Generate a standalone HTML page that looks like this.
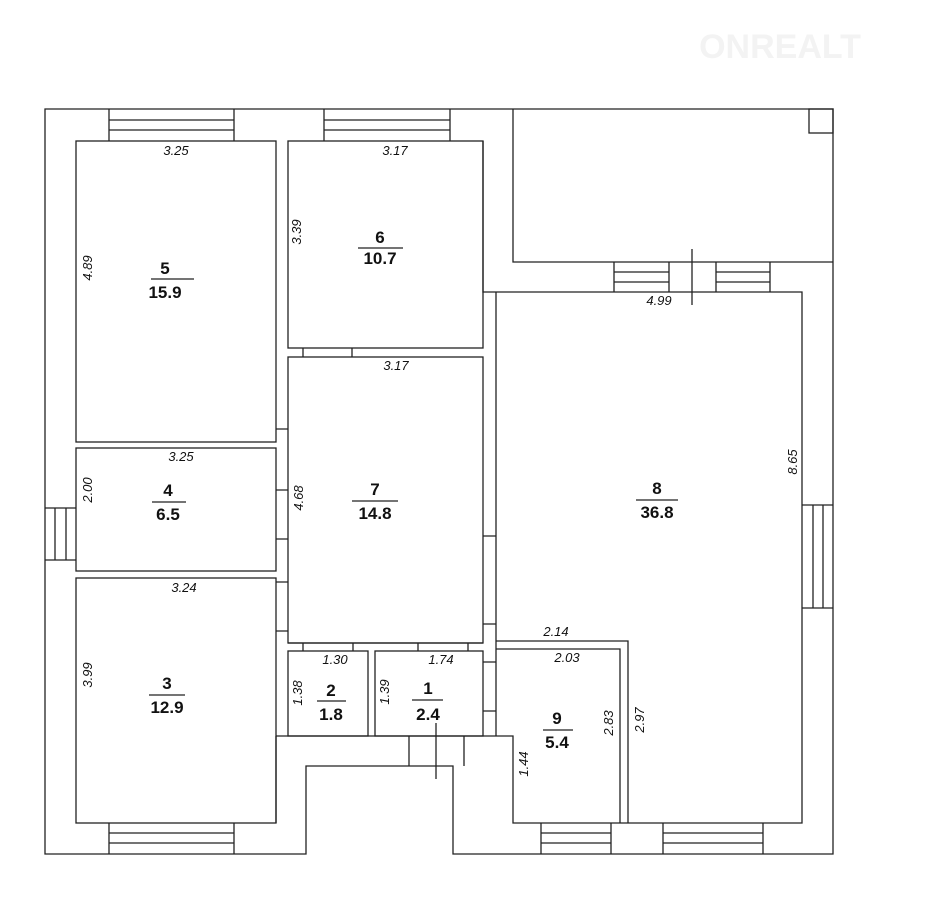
<!DOCTYPE html>
<html><head><meta charset="utf-8"><style>
html,body{margin:0;padding:0;background:#fff}
svg{display:block}
.l{stroke:#222;stroke-width:1.3;fill:none}
.n{font-family:"Liberation Sans",Arial,sans-serif;font-weight:bold;font-size:17px;fill:#111;text-anchor:middle}
.d{font-family:"Liberation Sans",Arial,sans-serif;font-style:italic;font-size:13px;fill:#111;text-anchor:middle}
</style></head><body>
<svg width="942" height="910" viewBox="0 0 942 910" xmlns="http://www.w3.org/2000/svg">
<text x="780" y="58" font-family="Liberation Sans,sans-serif" font-weight="bold" font-size="34" fill="#f3f3f3" text-anchor="middle">ONREALT</text>
<g class="l">
<path d="M45 109 H833 V854 H453 V766 H306 V854 H45 Z"/>
<path d="M513 109 V262 H833"/>
<rect x="809" y="109" width="24" height="24"/>
<path d="M109 109 V141 M234 109 V141 M109 120 H234 M109 130 H234"/>
<path d="M324 109 V141 M450 109 V141 M324 120 H450 M324 130 H450"/>
<path d="M614 262 V292 M669 262 V292 M614 272 H669 M614 282 H669"/>
<path d="M716 262 V292 M770 262 V292 M716 272 H770 M716 282 H770"/>
<path d="M692 249 V305"/>
<path d="M802 505 H833 M802 608 H833 M813 505 V608 M823 505 V608"/>
<path d="M45 508 H76 M45 560 H76 M55 508 V560 M66 508 V560"/>
<path d="M109 823 V854 M234 823 V854 M109 833 H234 M109 843 H234"/>
<path d="M541 823 V854 M611 823 V854 M541 833 H611 M541 843 H611"/>
<path d="M663 823 V854 M763 823 V854 M663 833 H763 M663 843 H763"/>
<rect x="76" y="141" width="200" height="301"/>
<rect x="76" y="448" width="200" height="123"/>
<rect x="76" y="578" width="200" height="245"/>
<rect x="288" y="141" width="195" height="207"/>
<rect x="288" y="357" width="195" height="286"/>
<rect x="288" y="651" width="80" height="85"/>
<rect x="375" y="651" width="108" height="85"/>
<path d="M483 141 V292 H802 V823 H513 V736 H276"/>
<path d="M496 292 V736"/>
<path d="M496 641 H628 V823"/>
<path d="M496 649 H620 V823"/>
<path d="M276 736 V823"/>
<path d="M409 736 V766 M464 736 V766"/>
<path d="M436 723 V779"/>
<path d="M276 429 H288 M276 490 H288 M276 539 H288 M276 582 H288 M276 631 H288"/>
<path d="M303 348 V357 M352 348 V357"/>
<path d="M303 643 V651 M353 643 V651 M418 643 V651 M468 643 V651 M288 643 H483"/>
<path d="M483 536 H496 M483 624 H496 M483 662 H496 M483 711 H496"/>
<path d="M151 279 H194 M358 248 H403 M152 502 H186 M352 501 H398 M636 500 H678 M149 695 H185 M317 701 H346 M412 700 H443 M543 730 H573"/>
</g>
<g class="n">
<text x="165" y="274">5</text><text x="165" y="298">15.9</text>
<text x="380" y="243">6</text><text x="380" y="264">10.7</text>
<text x="168" y="496">4</text><text x="168" y="520">6.5</text>
<text x="375" y="495">7</text><text x="375" y="519">14.8</text>
<text x="657" y="494">8</text><text x="657" y="518">36.8</text>
<text x="167" y="689">3</text><text x="167" y="713">12.9</text>
<text x="331" y="696">2</text><text x="331" y="720">1.8</text>
<text x="428" y="694">1</text><text x="428" y="720">2.4</text>
<text x="557" y="724">9</text><text x="557" y="748">5.4</text>
</g>
<g class="d">
<text x="176" y="155">3.25</text>
<text x="395" y="155">3.17</text>
<text x="659" y="305">4.99</text>
<text x="396" y="370">3.17</text>
<text x="181" y="461">3.25</text>
<text x="184" y="592">3.24</text>
<text x="556" y="636">2.14</text>
<text x="335" y="664">1.30</text>
<text x="441" y="664">1.74</text>
<text x="567" y="662">2.03</text>
<text transform="translate(92,268) rotate(-90)">4.89</text>
<text transform="translate(301,232) rotate(-90)">3.39</text>
<text transform="translate(92,490) rotate(-90)">2.00</text>
<text transform="translate(303,498) rotate(-90)">4.68</text>
<text transform="translate(797,462) rotate(-90)">8.65</text>
<text transform="translate(92,675) rotate(-90)">3.99</text>
<text transform="translate(302,693) rotate(-90)">1.38</text>
<text transform="translate(389,692) rotate(-90)">1.39</text>
<text transform="translate(613,723) rotate(-90)">2.83</text>
<text transform="translate(644,720) rotate(-90)">2.97</text>
<text transform="translate(528,764) rotate(-90)">1.44</text>
</g>
</svg>
</body></html>
